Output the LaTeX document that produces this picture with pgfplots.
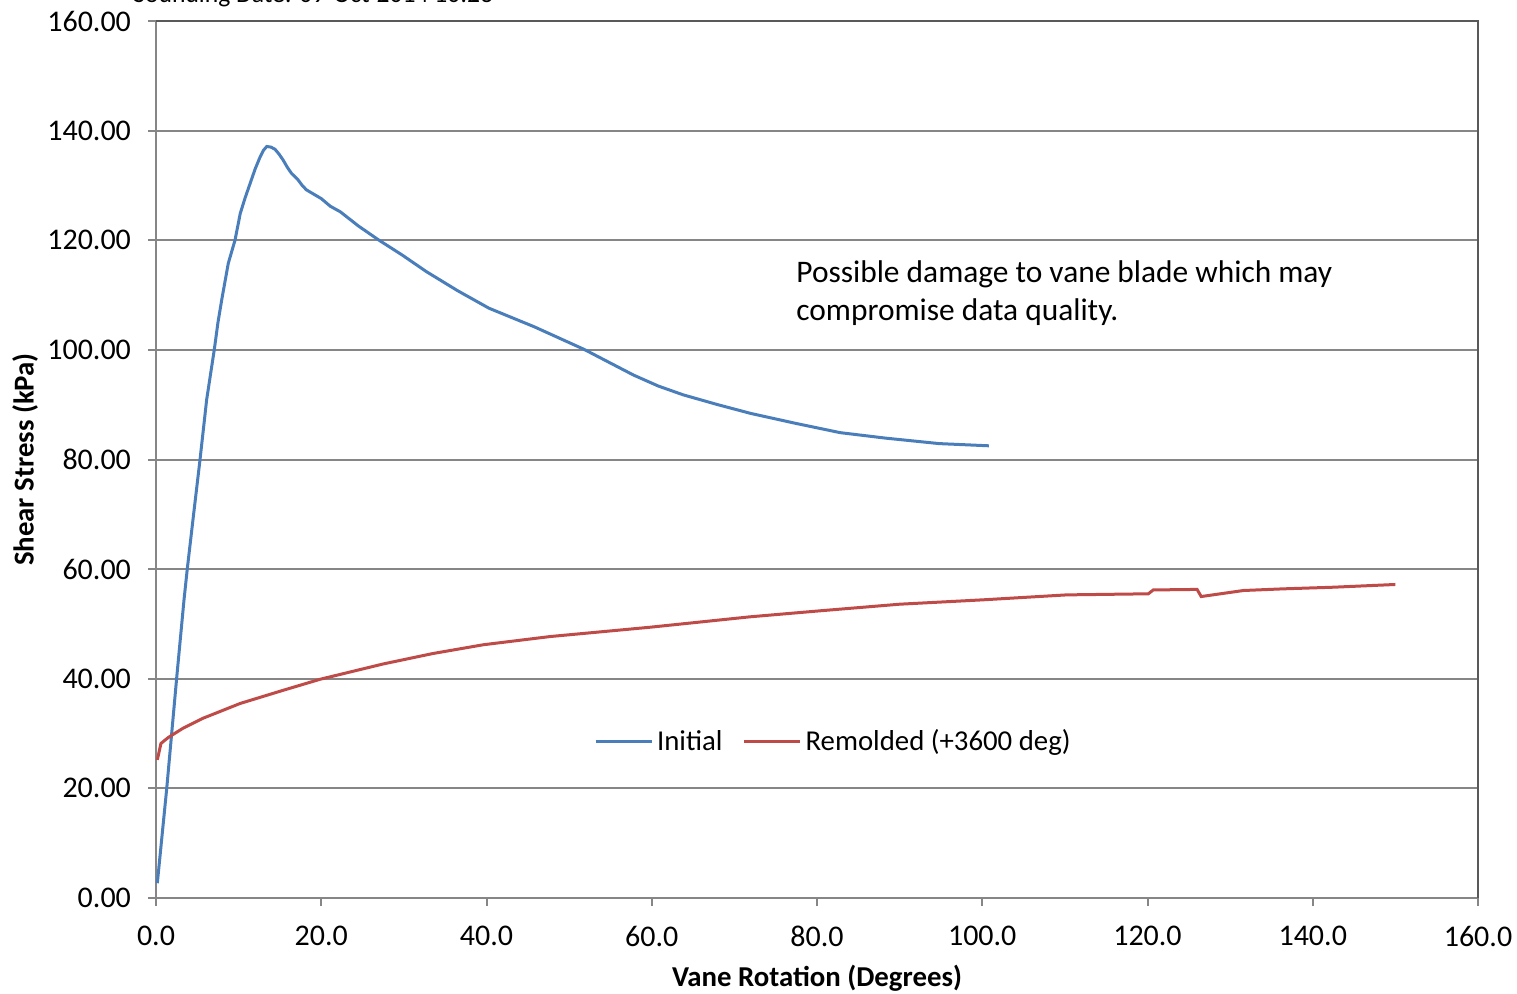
\documentclass[border=0pt]{standalone}
\usepackage{fontspec}
\setmainfont{Carlito}
\usepackage{pgfplots}
\pgfplotsset{compat=1.18}
\definecolor{cblue}{HTML}{4A7EBB}
\definecolor{cred}{HTML}{BE4B48}
\definecolor{cgrid}{HTML}{868686}
\definecolor{cframe}{HTML}{595959}
\begin{document}
\begin{tikzpicture}
\begin{axis}[
  at={(78pt,47.5pt)}, anchor=south west,
  scale only axis, width=661pt, height=438.5pt,
  xmin=0, xmax=160, ymin=0, ymax=160,
  xtick={0,20,...,160}, ytick={0,20,...,160},
  axis line style={draw=cgrid, line width=1pt},
  tick style={draw=cgrid, line width=1pt},
  tick pos=left, tick align=outside, major tick length=4pt,
  ymajorgrids, grid style={draw=cgrid, line width=1pt},
  /pgf/number format/assume math mode=true,
  xticklabel style={/pgf/number format/.cd, fixed, fixed zerofill, precision=1, /tikz/.cd, yshift=-6.5pt},
  yticklabel style={/pgf/number format/.cd, fixed, fixed zerofill, precision=2, /tikz/.cd, xshift=-5pt},
  ticklabel style={font=\fontsize{15}{17}\selectfont},
  xlabel={\textbf{Vane Rotation (Degrees)}},
  ylabel={\textbf{Shear Stress (kPa)}},
  label style={font=\fontsize{14.4}{16}\selectfont},
  xlabel style={at={(axis description cs:0.5,-0.0912)}, anchor=center},
  ylabel style={at={(axis description cs:-0.099,0.5)}, anchor=center},
  legend style={at={(axis cs:82.1,28.5)}, anchor=center, draw=none, fill=none,
    legend columns=2, font=\fontsize{14.4}{16}\selectfont,
    /tikz/every even column/.append style={column sep=8pt}},
  legend image code/.code={\draw[#1] (0pt,0pt) -- (28pt,0pt);},
  clip=false,
]
\addplot[cblue, line width=1.5pt] coordinates {
(0.16,2.7) (1.3,20) (2.5,40.1) (3.39,54.4) (3.79,60.1) (4.52,69.6) (5.33,80.0)
(6.13,90.9) (7.06,100.1) (7.5,105.0) (7.95,109.1) (8.75,115.8) (9.56,120.0)
(10.2,124.9) (10.8,127.8) (11.4,130.4) (12.0,133.0) (12.6,135.2) (13.0,136.4) (13.4,137.1)
(13.9,137.0) (14.4,136.6) (14.9,135.7) (15.4,134.6) (15.9,133.3)
(16.4,132.2) (17.2,131.0) (17.7,130.0) (18.2,129.2) (19.1,128.4) (20.0,127.6) (21.1,126.2) (22.3,125.2)
(24.5,122.6) (27.0,120.0) (29.8,117.3) (32.7,114.3) (36.5,110.8) (40.3,107.6)
(45.8,104.2) (51.8,100.1) (57.8,95.4) (60.8,93.4) (63.8,91.8) (68,90.0) (72.0,88.4) (77.4,86.6)
(82.8,84.9) (88.3,83.9) (94.8,82.9) (100.8,82.5)
};
\addlegendentry{Initial}
\addplot[cred, line width=1.5pt] coordinates {
(0.16,25.2) (0.6,28.2) (1.5,29.3) (3.3,31.0) (5.7,32.8) (10.2,35.5) (15.4,37.9)
(19.85,39.9) (27.5,42.7) (33.5,44.6) (39.6,46.2) (47.7,47.7) (59.8,49.4)
(71.9,51.3) (80.4,52.4) (90.0,53.6) (100.1,54.4) (110.2,55.3) (120.1,55.5)
(120.7,56.2) (126.0,56.3) (126.5,55.0) (131.6,56.1) (136.4,56.4) (142.5,56.7)
(150.0,57.2)
};
\addlegendentry{Remolded (+3600 deg)}
\draw[cframe, line width=1pt] (rel axis cs:0,1) -- (rel axis cs:1,1) -- (rel axis cs:1,0);
\node[anchor=base west, align=left, font=\fontsize{15.7}{19}\selectfont, inner sep=0pt]
  at (axis cs:77.46,105.3) {Possible damage to vane blade which may\\compromise data quality.};
\end{axis}
\node[anchor=base west, inner sep=0pt, font=\fontsize{12.8}{15}\selectfont] at (66.5pt,495pt) {Sounding Date: 09-Oct-2014 10:23};
\pgfresetboundingbox
\useasboundingbox (0,0) rectangle (758.5pt,496.5pt);
\end{tikzpicture}
\end{document}
